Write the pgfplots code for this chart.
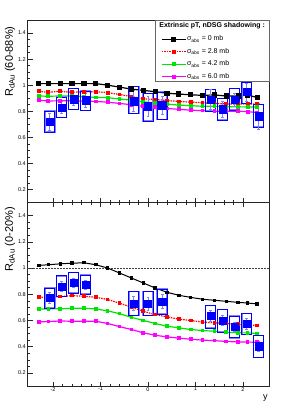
\documentclass[border=0pt]{standalone}
\usepackage{fontspec}
\setmainfont{Liberation Sans}
\usepackage{pgfplots}
\usepackage{pgfplotstable}
\pgfplotsset{compat=1.18}

\definecolor{rgreen}{rgb}{0,0.9,0}
\definecolor{rmag}{rgb}{1,0,1}
\definecolor{lblue}{rgb}{0.5,0.5,1}

\pgfplotstableread{
x bU rU gU mU bL rL gL mL
-2.30 1.012 0.953 0.917 0.884 1.020 0.779 0.688 0.589
-2.10 1.012 0.945 0.915 0.879 1.025 0.776 0.688 0.592
-1.85 1.012 0.953 0.917 0.880 1.032 0.782 0.689 0.596
-1.60 1.012 0.945 0.917 0.880 1.037 0.789 0.693 0.594
-1.35 1.012 0.950 0.910 0.878 1.040 0.785 0.693 0.594
-1.10 1.012 0.950 0.906 0.875 1.025 0.777 0.688 0.594
-0.85 1.000 0.943 0.904 0.870 1.000 0.760 0.673 0.577
-0.60 0.985 0.928 0.894 0.860 0.962 0.732 0.652 0.553
-0.35 0.970 0.913 0.885 0.850 0.924 0.702 0.624 0.531
-0.10 0.960 0.895 0.873 0.838 0.886 0.670 0.600 0.506
0.15 0.950 0.890 0.862 0.830 0.848 0.645 0.577 0.487
0.40 0.938 0.882 0.855 0.821 0.815 0.627 0.556 0.475
0.65 0.932 0.875 0.847 0.815 0.792 0.610 0.544 0.465
0.90 0.926 0.870 0.843 0.808 0.776 0.600 0.531 0.457
1.15 0.922 0.865 0.838 0.805 0.762 0.588 0.523 0.450
1.40 0.925 0.860 0.838 0.800 0.754 0.582 0.518 0.446
1.65 0.917 0.856 0.835 0.800 0.746 0.577 0.510 0.440
1.90 0.917 0.855 0.834 0.800 0.738 0.571 0.506 0.436
2.10 0.925 0.855 0.833 0.797 0.733 0.567 0.505 0.435
2.30 0.905 0.855 0.833 0.790 0.726 0.561 0.500 0.434
}\theory

\pgfplotstableread{
x y e
-2.07 0.720 0.064
-1.82 0.828 0.045
-1.57 0.892 0.050
-1.32 0.884 0.056
-0.30 0.877 0.080
0.00 0.838 0.075
0.30 0.846 0.070
1.32 0.890 0.075
1.57 0.815 0.060
1.82 0.890 0.050
2.08 0.948 0.070
2.33 0.762 0.100
}\dataU

\pgfplotstableread{
x y e
-2.07 0.772 0.040
-1.82 0.860 0.035
-1.57 0.890 0.035
-1.32 0.870 0.035
-0.30 0.729 0.055
0.00 0.729 0.050
0.30 0.746 0.050
1.32 0.637 0.040
1.57 0.600 0.040
1.82 0.551 0.035
2.08 0.574 0.040
2.33 0.404 0.040
}\dataL

\pgfplotstableread{
x y
-2.175 0.641
-1.965 0.641
-1.965 0.800
-2.175 0.800
-2.175 0.641
nan nan
-1.925 0.752
-1.715 0.752
-1.715 0.910
-1.925 0.910
-1.925 0.752
nan nan
-1.675 0.813
-1.465 0.813
-1.465 0.974
-1.675 0.974
-1.675 0.813
nan nan
-1.425 0.805
-1.215 0.805
-1.215 0.955
-1.425 0.955
-1.425 0.805
nan nan
-0.405 0.782
-0.195 0.782
-0.195 0.990
-0.405 0.990
-0.405 0.782
nan nan
-0.105 0.726
0.105 0.726
0.105 0.936
-0.105 0.936
-0.105 0.726
nan nan
0.195 0.736
0.405 0.736
0.405 0.948
0.195 0.948
0.195 0.736
nan nan
1.215 0.800
1.425 0.800
1.425 0.966
1.215 0.966
1.215 0.800
nan nan
1.465 0.731
1.675 0.731
1.675 0.897
1.465 0.897
1.465 0.731
nan nan
1.715 0.808
1.925 0.808
1.925 0.974
1.715 0.974
1.715 0.808
nan nan
1.975 0.859
2.185 0.859
2.185 1.022
1.975 1.022
1.975 0.859
nan nan
2.225 0.680
2.435 0.680
2.435 0.851
2.225 0.851
2.225 0.680
}\boxU

\pgfplotstableread{
x y
-2.175 0.696
-1.965 0.696
-1.965 0.848
-2.175 0.848
-2.175 0.696
nan nan
-1.925 0.784
-1.715 0.784
-1.715 0.941
-1.925 0.941
-1.925 0.784
nan nan
-1.675 0.810
-1.465 0.810
-1.465 0.967
-1.675 0.967
-1.675 0.810
nan nan
-1.425 0.800
-1.215 0.800
-1.215 0.947
-1.425 0.947
-1.425 0.800
nan nan
-0.405 0.637
-0.195 0.637
-0.195 0.822
-0.405 0.822
-0.405 0.637
nan nan
-0.105 0.637
0.105 0.637
0.105 0.822
-0.105 0.822
-0.105 0.637
nan nan
0.195 0.650
0.405 0.650
0.405 0.840
0.195 0.840
0.195 0.650
nan nan
1.215 0.544
1.425 0.544
1.425 0.713
1.215 0.713
1.215 0.544
nan nan
1.465 0.513
1.675 0.513
1.675 0.683
1.465 0.683
1.465 0.513
nan nan
1.715 0.468
1.925 0.468
1.925 0.632
1.715 0.632
1.715 0.468
nan nan
1.975 0.493
2.185 0.493
2.185 0.652
1.975 0.652
1.975 0.493
nan nan
2.225 0.316
2.435 0.316
2.435 0.485
2.225 0.485
2.225 0.316
}\boxL

\pgfplotsset{
  panel/.style={
    scale only axis, width=242bp,
    xmin=-2.55, xmax=2.55, ymin=0.1, ymax=1.5,
    xtick={-2,-1,0,1,2}, minor x tick num=4,
    ytick={0.2,0.4,0.6,0.8,1,1.2,1.4},
    yticklabels={0.2,0.4,0.6,0.8,1,1.2,1.4},
    minor y tick num=3,
    tick align=inside, ytick pos=left,
    axis line style={black!85, line width=0.8bp},
    tick style={black!85, line width=0.5bp},
    major tick length=6.5bp, minor tick length=3.3bp,
    xtick style={/pgfplots/major tick length=4.3bp,/pgfplots/minor tick length=2.2bp},
    /pgf/number format/assume math mode=true,
    ticklabel style={font=\fontsize{5.5bp}{6bp}\selectfont},
    yticklabel style={inner sep=1bp},
    xticklabel style={inner sep=1bp},
    ylabel style={font=\fontsize{11bp}{12bp}\selectfont, anchor=east},
    clip=false,
    unbounded coords=jump,
  },
  boxhalo/.style={lblue, line width=1.6bp, line cap=rect, forget plot},
  boxline/.style={blue, line width=0.6bp, line cap=rect, forget plot},
  datapts/.style={only marks, mark=square*, mark size=3.6bp, blue, forget plot,
    error bars/.cd, y dir=both, y explicit,
    error bar style={lblue, line width=0.6bp},
    error mark options={rotate=90, mark size=1.4bp, lblue, line width=0.6bp}},
}

\begin{document}
\begin{tikzpicture}
\path[use as bounding box] (0,0) rectangle (299bp,407bp);

\begin{axis}[panel, height=182.5bp, at={(27bp,204.5bp)}, anchor=south west,
  xtick pos=left, xticklabels={},
  ylabel={R\textsubscript{dAu} (60-88\%)},
  ylabel style={at={(axis description cs:-0.07,0.984)}},
  legend image code/.code={\draw[#1, mark repeat=2, mark phase=2] plot coordinates {(0bp,0bp) (11.9bp,0bp) (23.8bp,0bp)};},
  legend cell align=left,
  legend style={at={(rel axis cs:0.541,0.925)}, anchor=north west, draw=none, fill=none,
    font=\fontsize{7bp}{8bp}\selectfont, column sep=1bp, row sep=6bp,
    nodes={inner sep=0pt, text height=5bp, text depth=1.5bp}},
]
\addplot[black, line width=1.2bp, mark=square*, mark size=2bp] table[x=x, y=bU] {\theory};
\addlegendentry{σ\textsubscript{abs} = 0 mb}
\addplot[red, line width=1.2bp, dash pattern=on 1.5bp off 1bp, mark=square*, mark size=1.3bp, mark options={solid}] table[x=x, y=rU] {\theory};
\addlegendentry{σ\textsubscript{abs} = 2.8 mb}
\addplot[rgreen, line width=1.2bp, mark=square*, mark size=1.3bp] table[x=x, y=gU] {\theory};
\addlegendentry{σ\textsubscript{abs} = 4.2 mb}
\addplot[rmag, line width=1.2bp, mark=square*, mark size=1.3bp] table[x=x, y=mU] {\theory};
\addlegendentry{σ\textsubscript{abs} = 6.0 mb}
\addplot[boxhalo] table {\boxU};
\addplot[boxline] table {\boxU};
\addplot[datapts] table[x=x, y=y, y error=e] {\dataU};
\filldraw[draw=black!60, fill=white, line width=0.8bp] (rel axis cs:0.532,0.662) rectangle (rel axis cs:1,1);
\node[font=\bfseries\fontsize{7bp}{8bp}\selectfont] at (rel axis cs:0.765,0.971) {Extrinsic pT, nDSG shadowing :};
\end{axis}

\begin{axis}[panel, height=183.5bp, at={(27bp,21bp)}, anchor=south west,
  xtick pos=both, xticklabel pos=left,
  xticklabels={-2,-1,0,1,2},
  ylabel={R\textsubscript{dAu} (0-20\%)},
  ylabel style={at={(axis description cs:-0.07,0.995)}},
  xlabel={y},
  xlabel style={font=\fontsize{9bp}{10bp}\selectfont, at={(axis description cs:0.995,-0.045)}, anchor=north east, inner sep=0pt},
]
\addplot[black!75, line width=0.5bp, dash pattern=on 1.5bp off 1.5bp, forget plot] coordinates {(-2.55,1) (2.55,1)};
\addplot[black, line width=1bp, mark=square*, mark size=1.2bp] table[x=x, y=bL] {\theory};
\addplot[red, line width=1.2bp, dash pattern=on 1.5bp off 1bp, mark=square*, mark size=1.2bp, mark options={solid}] table[x=x, y=rL] {\theory};
\addplot[rgreen, line width=1.2bp, mark=square*, mark size=1.2bp] table[x=x, y=gL] {\theory};
\addplot[rmag, line width=1.2bp, mark=square*, mark size=1.2bp] table[x=x, y=mL] {\theory};
\addplot[boxhalo] table {\boxL};
\addplot[boxline] table {\boxL};
\addplot[datapts] table[x=x, y=y, y error=e] {\dataL};
\end{axis}
\end{tikzpicture}
\end{document}
